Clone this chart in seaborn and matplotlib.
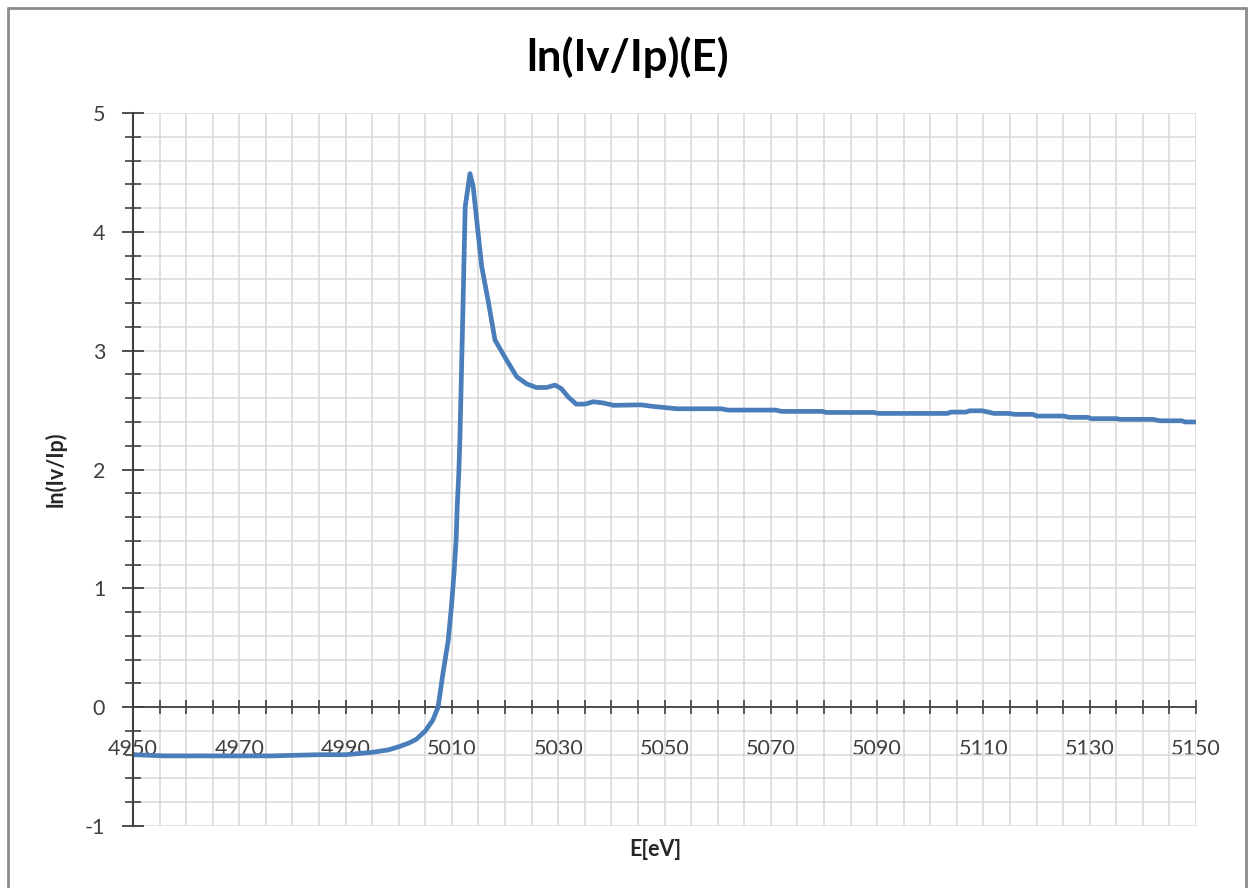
import matplotlib
matplotlib.use('Agg')
import matplotlib.pyplot as plt
from matplotlib.ticker import MultipleLocator
from matplotlib.lines import Line2D
import pandas as pd
import seaborn as sns

# Energy [eV] and ln(Iv/Ip)
energy = [4950, 4956, 4965, 4976, 4985, 4990, 4995, 4998, 5000.2, 5002, 5003.3,
          5005, 5006.4, 5007.4, 5008.3, 5009.3, 5009.9, 5010.4, 5010.8, 5011.0,
          5011.3, 5011.5, 5012.0, 5012.5, 5013.4, 5014.0, 5015.6, 5016.9, 5018.1,
          5020.3, 5022.2, 5024.1, 5025.9, 5027.8, 5029.4, 5030.6, 5031.9, 5033.4,
          5035.0, 5036.6, 5038.5, 5040.4, 5045.6, 5048, 5052.4, 5060.6, 5062,
          5071, 5072, 5079.7, 5080.4, 5089.3, 5090.3, 5103.3, 5103.8, 5106.7,
          5107.4, 5109.8, 5112, 5114.7, 5115.9, 5119.3, 5120, 5125.1, 5126.2,
          5129.6, 5130.3, 5135.1, 5135.7, 5141.9, 5143.2, 5147.3, 5148, 5150]
ln_ratio = [-0.40, -0.41, -0.41, -0.41, -0.40, -0.40, -0.38, -0.36, -0.33, -0.30, -0.27,
            -0.20, -0.11, 0.0, 0.28, 0.56, 0.84, 1.13, 1.41, 1.69,
            1.97, 2.25, 3.20, 4.21, 4.49, 4.38, 3.71, 3.40, 3.09,
            2.92, 2.78, 2.72, 2.69, 2.69, 2.71, 2.68, 2.61, 2.55,
            2.55, 2.57, 2.56, 2.54, 2.544, 2.53, 2.511, 2.511, 2.50,
            2.50, 2.489, 2.489, 2.48, 2.48, 2.472, 2.472, 2.483, 2.483,
            2.494, 2.494, 2.472, 2.472, 2.464, 2.464, 2.45, 2.45, 2.439,
            2.439, 2.428, 2.428, 2.422, 2.422, 2.41, 2.41, 2.40, 2.40]

df = pd.DataFrame({'E': energy, 'ln': ln_ratio})

sns.set_style('white')
plt.rcParams['font.family'] = ['Lato', 'DejaVu Sans']
plt.rcParams['axes.unicode_minus'] = False

fig = plt.figure(figsize=(12.49, 8.88), dpi=100)
ax = fig.add_axes([133 / 1249, 1 - 826 / 888, 1063 / 1249, 713 / 888])

sns.lineplot(data=df, x='E', y='ln', color='#4a7ebb', linewidth=3.4, ax=ax)

ax.set_xlim(4950, 5150)
ax.set_ylim(-1, 5)

ax.xaxis.set_major_locator(MultipleLocator(20, offset=10))
ax.xaxis.set_minor_locator(MultipleLocator(5))
ax.yaxis.set_major_locator(MultipleLocator(1))
ax.yaxis.set_minor_locator(MultipleLocator(0.2))

ax.grid(True, which='both', color='#d9d9d9', linewidth=1.1)
ax.set_axisbelow(True)

for s in ['top', 'right']:
    ax.spines[s].set_visible(False)
ax.spines['bottom'].set_position(('data', 0))
ax.spines['bottom'].set_color('#404040')
ax.spines['left'].set_color('#404040')
ax.spines['bottom'].set_linewidth(1.3)
ax.spines['left'].set_linewidth(1.5)
ax.spines['bottom'].set_zorder(1.5)

ax.tick_params(axis='x', which='both', direction='inout', length=10, width=1.2,
               color='#404040', bottom=True, labelsize=15.5, labelcolor='#404040', pad=18)
ax.tick_params(axis='y', which='major', direction='inout', length=16, width=1.3,
               color='#404040', left=True, labelsize=15.5, labelcolor='#404040', pad=12)
ax.tick_params(axis='y', which='minor', direction='inout', length=12, width=1.2,
               color='#404040', left=True)

ax.set_xlabel('E[eV]', fontsize=15.5, fontweight='bold', color='#262626')
ax.set_ylabel('ln(Iv/Ip)', fontsize=15.5, fontweight='bold', color='#262626')
ax.xaxis.set_label_coords((655 - 133) / 1063, -0.018)
ax.yaxis.set_label_coords((67 - 133) / 1063, 0.5)

ax.set_title('ln(Iv/Ip)(E)', fontsize=31.5, fontweight='bold', color='black',
             x=(628 - 133) / 1063, pad=30)

# outer chart frame
frame_kw = dict(transform=fig.transFigure, color='#8c8c8c', linewidth=2)
fig.add_artist(Line2D([8 / 1249, 8 / 1249], [0, 1 - 8 / 888], **frame_kw))
fig.add_artist(Line2D([8 / 1249, 1246 / 1249], [1 - 8 / 888, 1 - 8 / 888], **frame_kw))
fig.add_artist(Line2D([1246 / 1249, 1246 / 1249], [0, 1 - 8 / 888], **frame_kw))

fig.savefig('out.png', dpi=100)
